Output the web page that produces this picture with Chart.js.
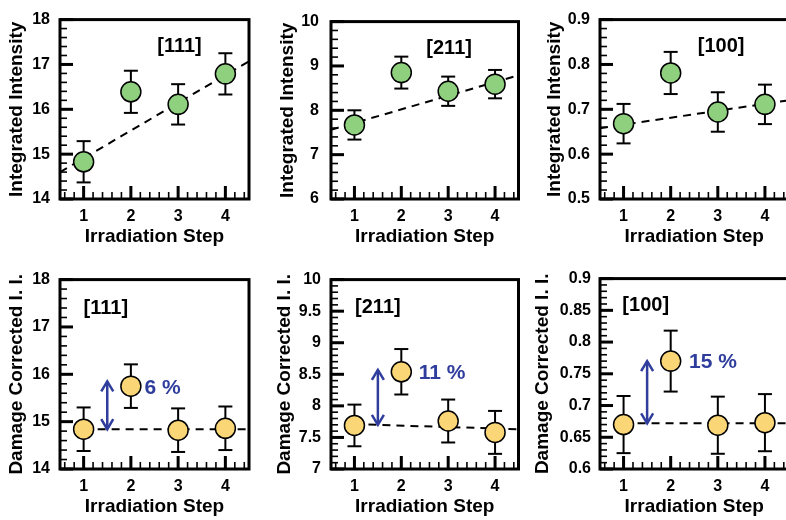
<!DOCTYPE html>
<html lang="en">
<head>
  <meta charset="UTF-8">
  <title>Integrated Intensity vs Irradiation Step</title>
  <style>
    body {
      margin: 0;
      background: #ffffff;
      width: 786px;
      height: 520px;
      overflow: hidden;
      position: relative;
    }
    canvas {
      position: absolute;
    }
  </style>
  <script src="https://cdn.jsdelivr.net/npm/chart.js"></script>
</head>
<body>
  <canvas id="c1" width="262" height="260" style="left:0px;top:0px"></canvas>
  <canvas id="c2" width="268" height="260" style="left:262px;top:0px"></canvas>
  <canvas id="c3" width="270" height="260" style="left:530px;top:0px"></canvas>
  <canvas id="c4" width="262" height="260" style="left:0px;top:260px"></canvas>
  <canvas id="c5" width="268" height="260" style="left:262px;top:260px"></canvas>
  <canvas id="c6" width="270" height="260" style="left:530px;top:260px"></canvas>

  <script>
    // x axis: irradiation steps
    const steps = [1, 2, 3, 4];
    const stepTicks = [1, 2, 3, 4];

    // integrated intensity (top row)
    const ii111 = [14.83, 16.39, 16.11, 16.79];
    const ii111Err = [0.46, 0.47, 0.45, 0.46];
    const ii211 = [7.67, 8.85, 8.43, 8.59];
    const ii211Err = [0.33, 0.36, 0.33, 0.32];
    const ii100 = [0.668, 0.781, 0.694, 0.711];
    const ii100Err = [0.044, 0.047, 0.044, 0.044];

    // damage corrected integrated intensity (bottom row)
    const dc111 = [14.84, 15.75, 14.82, 14.86];
    const dc111Err = [0.46, 0.46, 0.46, 0.46];
    const dc211 = [7.69, 8.54, 7.76, 7.58];
    const dc211Err = [0.33, 0.36, 0.34, 0.34];
    const dc100 = [0.670, 0.770, 0.669, 0.673];
    const dc100Err = [0.045, 0.048, 0.045, 0.045];

    // dashed fit lines (x ends, y ends)
    const fitII111X = [0.5, 4.5], fitII111Y = [14.6, 17.07];
    const fitII211X = [0.5, 4.5], fitII211Y = [7.56, 8.79];
    const fitII100X = [0.5, 4.5], fitII100Y = [0.658, 0.72];
    const fitDC111X = [1, 4.5], fitDC111Y = [14.84, 14.84];
    const fitDC211X = [1, 4.5], fitDC211Y = [7.71, 7.63];
    const fitDC100X = [1, 4.5], fitDC100Y = [0.672, 0.672];

    // y tick labels
    const yTicksII111 = [14, 15, 16, 17, 18];
    const yTicksII211 = [6, 7, 8, 9, 10];
    const yTicksII100 = [0.5, 0.6, 0.7, 0.8, 0.9];
    const yTicksDC111 = [14, 15, 16, 17, 18];
    const yTicksDC211 = [7, 7.5, 8, 8.5, 9, 9.5, 10];
    const yTicksDC100 = [0.6, 0.65, 0.7, 0.75, 0.8, 0.85, 0.9];

    // rise of step 2 above the baseline
    const riseLabels = ['6 %', '11 %', '15 %'];
    const riseFrom = [14.84, 7.70, 0.672];
    const riseTo = [15.85, 8.57, 0.770];
    const planes = ['[111]', '[211]', '[100]'];

    const FONT = '"Liberation Sans", Arial, Helvetica, sans-serif';
    const BLUE = '#2f3d9c';
    const GREEN = '#8fd07e';
    const YELLOW = '#fbd676';

    function seg(ctx, x0, y0, x1, y1) {
      ctx.beginPath();
      ctx.moveTo(x0, y0);
      ctx.lineTo(x1, y1);
      ctx.stroke();
    }

    // error bars, frame, inward ticks, arrow and labels
    const decor = {
      id: 'decor',
      beforeDatasetsDraw(chart, args, o) {
        const ctx = chart.ctx, x = chart.scales.x, y = chart.scales.y;
        ctx.save();
        ctx.strokeStyle = '#000';
        ctx.lineWidth = 2;
        o.values.forEach((v, i) => {
          const px = x.getPixelForValue(steps[i]);
          const t = y.getPixelForValue(v + o.err[i]);
          const b = y.getPixelForValue(v - o.err[i]);
          seg(ctx, px, t, px, b);
          seg(ctx, px - 7, t, px + 7, t);
          seg(ctx, px - 7, b, px + 7, b);
        });
        ctx.restore();
      },
      afterDraw(chart, args, o) {
        const ctx = chart.ctx, x = chart.scales.x, y = chart.scales.y;
        const a = chart.chartArea;
        const yMinor = o.yMinor;
        ctx.save();
        ctx.setLineDash([]);
        ctx.strokeStyle = '#000';

        // frame
        ctx.lineWidth = 3;
        ctx.strokeRect(a.left, a.top, a.right - a.left, a.bottom - a.top);

        // minor ticks, pointing inward
        ctx.lineWidth = 1.6;
        for (let k = 1; k < 40; k += 2) {
          const v = 0.5 + k * 0.1;
          if (Math.abs(v - Math.round(v)) < 0.01) continue;
          const px = x.getPixelForValue(v);
          seg(ctx, px, a.bottom, px, a.bottom - 7);
        }
        const n = Math.round((y.max - y.min) / yMinor);
        for (let k = 1; k < n; k++) {
          const py = y.getPixelForValue(y.min + k * yMinor);
          seg(ctx, a.left, py, a.left + 7, py);
        }

        // major ticks
        ctx.lineWidth = 3;
        stepTicks.forEach(v => {
          const px = x.getPixelForValue(v);
          seg(ctx, px, a.bottom, px, a.bottom - 13);
        });
        y.ticks.forEach(t => {
          const py = y.getPixelForValue(t.value);
          seg(ctx, a.left, py, a.left + 13, py);
        });

        // double arrow
        if (o.arrow) {
          const px = x.getPixelForValue(o.arrow.x);
          const p0 = y.getPixelForValue(o.arrow.from);
          const p1 = y.getPixelForValue(o.arrow.to);
          ctx.strokeStyle = BLUE;
          ctx.lineWidth = 2.5;
          seg(ctx, px, p0, px, p1);
          ctx.beginPath();
          ctx.moveTo(px - 6, p1 + 10); ctx.lineTo(px, p1); ctx.lineTo(px + 6, p1 + 10);
          ctx.moveTo(px - 6, p0 - 10); ctx.lineTo(px, p0); ctx.lineTo(px + 6, p0 - 10);
          ctx.stroke();
          ctx.fillStyle = BLUE;
          ctx.font = 'bold 21px ' + FONT;
          ctx.textAlign = 'left';
          ctx.textBaseline = 'middle';
          ctx.fillText(o.arrow.text, x.getPixelForValue(o.arrow.tx), y.getPixelForValue(o.arrow.ty));
        }

        // plane label
        ctx.fillStyle = '#000';
        ctx.font = 'bold 20px ' + FONT;
        ctx.textAlign = 'center';
        ctx.textBaseline = 'middle';
        ctx.fillText(o.plane, x.getPixelForValue(o.planeX), y.getPixelForValue(o.planeY));
        ctx.restore();
      }
    };

    function makePanel(id, p) {
      const tickFont = { family: FONT, size: 16, weight: 'bold' };
      const titleFont = { family: FONT, size: 19, weight: 'bold' };
      new Chart(document.getElementById(id), {
        type: 'scatter',
        data: {
          datasets: [
            {
              data: steps.map((s, i) => ({ x: s, y: p.values[i] })),
              pointRadius: 10,
              pointBackgroundColor: p.fill,
              pointBorderColor: '#000',
              pointBorderWidth: 1.5,
              showLine: false,
              order: 0
            },
            {
              type: 'line',
              data: p.fitX.map((v, i) => ({ x: v, y: p.fitY[i] })),
              borderColor: '#000',
              borderWidth: 2,
              borderDash: [8, 6],
              pointRadius: 0,
              fill: false,
              order: 1
            }
          ]
        },
        options: {
          responsive: false,
          animation: false,
          devicePixelRatio: 1,
          layout: { padding: p.pad },
          plugins: {
            legend: { display: false },
            tooltip: { enabled: false },
            decor: {
              values: p.values, err: p.err, yMinor: p.yMinor,
              plane: p.plane, planeX: p.planeX, planeY: p.planeY,
              arrow: p.arrow
            }
          },
          scales: {
            x: {
              type: 'linear',
              min: 0.5,
              max: 4.5,
              afterBuildTicks: s => { s.ticks = stepTicks.map(v => ({ value: v })); },
              afterFit: s => { s.height = 51; },
              grid: { display: false, drawTicks: false },
              border: { display: false },
              ticks: { font: tickFont, color: '#000', padding: 8, callback: v => String(v) },
              title: {
                display: true, text: 'Irradiation Step', font: titleFont, color: '#000',
                padding: { top: 0, bottom: 1.6 }
              }
            },
            y: {
              type: 'linear',
              min: p.yTicks[0],
              max: p.yTicks[p.yTicks.length - 1],
              afterBuildTicks: s => { s.ticks = p.yTicks.map(v => ({ value: v })); },
              afterFit: s => { s.width = p.yWidth; },
              grid: { display: false, drawTicks: false },
              border: { display: false },
              ticks: { font: tickFont, color: '#000', padding: p.tickPad, callback: v => String(v) },
              title: {
                display: true, text: p.yTitle, font: titleFont, color: '#000',
                padding: { top: p.titlePad, bottom: 0 }
              }
            }
          }
        },
        plugins: [decor]
      });
    }

    makePanel('c1', {
      values: ii111, err: ii111Err, fitX: fitII111X, fitY: fitII111Y, yTicks: yTicksII111, yMinor: 0.2,
      fill: GREEN, yTitle: 'Integrated Intensity', plane: planes[0], planeX: 3.03, planeY: 17.4,
      pad: { left: 0, top: 7, right: 13, bottom: 10 }, yWidth: 60, tickPad: 10, titlePad: 5.6
    });
    makePanel('c2', {
      values: ii211, err: ii211Err, fitX: fitII211X, fitY: fitII211Y, yTicks: yTicksII211, yMinor: 0.2,
      fill: GREEN, yTitle: 'Integrated Intensity', plane: planes[1], planeX: 3.02, planeY: 9.4,
      pad: { left: 0, top: 7, right: 10, bottom: 10 }, yWidth: 69, tickPad: 12, titlePad: 14.6
    });
    makePanel('c3', {
      values: ii100, err: ii100Err, fitX: fitII100X, fitY: fitII100Y, yTicks: yTicksII100, yMinor: 0.02,
      fill: GREEN, yTitle: 'Integrated Intensity', plane: planes[2], planeX: 3.07, planeY: 0.84,
      pad: { left: 0, top: 7, right: 10, bottom: 10 }, yWidth: 70, tickPad: 10, titlePad: 13.6
    });
    makePanel('c4', {
      values: dc111, err: dc111Err, fitX: fitDC111X, fitY: fitDC111Y, yTicks: yTicksDC111, yMinor: 0.2,
      fill: YELLOW, yTitle: 'Damage Corrected I. I.', plane: planes[0], planeX: 1.47, planeY: 17.38,
      arrow: { x: 1.5, from: riseFrom[0], to: riseTo[0], text: riseLabels[0], tx: 2.29, ty: 15.7 },
      pad: { left: 0, top: 18, right: 13, bottom: 0 }, yWidth: 60, tickPad: 10, titlePad: 5.6
    });
    makePanel('c5', {
      values: dc211, err: dc211Err, fitX: fitDC211X, fitY: fitDC211Y, yTicks: yTicksDC211, yMinor: 0.1,
      fill: YELLOW, yTitle: 'Damage Corrected I. I.', plane: planes[1], planeX: 1.5, planeY: 9.56,
      arrow: { x: 1.5, from: riseFrom[1], to: riseTo[1], text: riseLabels[1], tx: 2.37, ty: 8.52 },
      pad: { left: 0, top: 18, right: 10, bottom: 0 }, yWidth: 69, tickPad: 10, titlePad: 11.6
    });
    makePanel('c6', {
      values: dc100, err: dc100Err, fitX: fitDC100X, fitY: fitDC100Y, yTicks: yTicksDC100, yMinor: 0.01,
      fill: YELLOW, yTitle: 'Damage Corrected I. I.', plane: planes[2], planeX: 1.47, planeY: 0.858,
      arrow: { x: 1.5, from: riseFrom[2], to: riseTo[2], text: riseLabels[2], tx: 2.39, ty: 0.769 },
      pad: { left: 0, top: 18, right: 10, bottom: 0 }, yWidth: 70, tickPad: 9, titlePad: 1.6
    });
  </script>
</body>
</html>
